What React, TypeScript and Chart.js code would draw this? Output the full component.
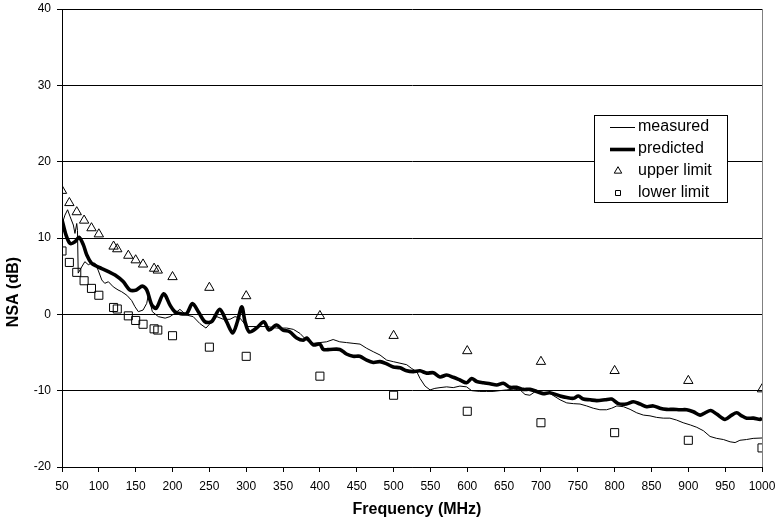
import { useEffect, useRef } from 'react';
import { Chart, registerables } from 'chart.js';

Chart.register(...registerables);

const FONT = '"Liberation Sans", Arial, Helvetica, sans-serif';

const measuredFreq = [
  50, 54, 57.6, 61, 65.4, 67.6, 70, 71, 72, 76.7, 81, 85.7, 90, 94.8, 99, 104, 108, 113, 119.6, 126,
  131, 138, 144.6, 149, 153.6, 160, 165, 167, 169.4, 172.6, 180.7, 190, 196.6, 203, 210, 219, 228, 237, 245.4, 251,
  260, 269, 278, 284.8, 291.6, 300.7, 314, 328, 341.4, 355, 364, 373, 382, 391, 400, 409, 418, 427, 436, 445,
  454.5, 463.5, 472.5, 481.6, 490.7, 499.7, 508.7, 517.8, 524.6, 531.4, 535.9, 542.7, 549.5, 556, 563, 572, 581, 590, 599, 606,
  617, 626, 635, 644, 653.5, 662.6, 671.6, 678.4, 685, 694, 703, 712, 726, 735, 744, 753, 762, 771, 780, 789,
  796, 803, 812, 821, 830, 839, 848, 857, 866, 875, 884, 893, 903, 911.5, 920.5, 929.5, 938.5, 947.6, 956.7, 963.5,
  970, 979, 988, 1000,
];
const measuredNsa = [
  11.8, 13.0, 13.7, 12.8, 11.7, 10.6, 11.9, 11.0, 5.4, 6.2, 6.9, 6.5, 6.7, 6.7, 5.8, 4.5, 4.06, 4.27, 3.6, 3.2,
  2.96, 2.5, 1.8, 1.0, 0.35, 0.56, 1.44, 2.5, 1.65, 0.35, -0.3, -0.5, -0.3, 0.13, 0.65, -0.1, -0.3, -1.2, -1.8, -1.2,
  -0.3, -0.65, -0.65, -0.3, -0.5, -1.6, -1.6, -1.6, -1.8, -1.8, -1.97, -2.5, -3.4, -3.8, -3.7, -3.6, -3.3, -3.6, -3.7, -3.8,
  -3.9, -4.45, -4.9, -5.33, -6.0, -6.2, -6.4, -6.6, -7.1, -7.5, -8.4, -9.4, -9.9, -9.7, -9.6, -9.5, -9.6, -9.4, -9.5, -10.0,
  -10.1, -10.1, -10.1, -10.0, -9.9, -9.8, -9.9, -10.5, -10.6, -10.0, -10.2, -10.35, -11.2, -11.6, -11.7, -11.75, -12.0, -12.3, -12.5, -12.5,
  -12.3, -12.0, -12.1, -12.45, -12.9, -13.2, -13.3, -13.5, -13.6, -13.6, -13.85, -14.2, -14.5, -14.8, -15.25, -16.0, -16.25, -16.4, -16.7, -16.8,
  -16.5, -16.4, -16.25, -16.2,
];

const predictedFreq = [
  50, 55.4, 60.9, 67.6, 73, 79, 83.5, 90, 97, 104, 113, 122, 133, 142, 151, 159, 165, 172, 178, 188,
  196.6, 203, 210, 219, 227, 235, 244, 253, 264, 273.5, 281.7, 288, 294, 298.4, 304, 314, 324, 331, 341, 350,
  359, 368.5, 377.5, 382, 391, 400, 404.6, 413.7, 427, 436, 445, 454, 463.5, 472.5, 481.6, 490.7, 499.7, 508.7, 517.8, 526.8,
  535.9, 545, 554, 563, 572, 581, 590, 599, 606, 612.8, 622, 631, 640, 649, 658, 667, 676, 685, 694, 703,
  712, 726, 735, 744, 750.7, 757.5, 766.6, 775.7, 787, 796, 805, 816, 825.4, 834.5, 843.5, 852.5, 861.5, 870.6, 879.7, 888.7,
  897.8, 906.8, 916, 922.7, 930.4, 938.5, 949.8, 958.9, 965.7, 972.5, 979.3, 988.4, 997.5, 1000,
];
const predictedNsa = [
  12.4, 10.4, 9.3, 9.5, 10.1, 9.1, 7.8, 6.7, 6.3, 6.0, 5.6, 5.15, 4.3, 3.2, 3.2, 3.7, 3.2, 1.2, 0.8, 2.7,
  1.2, 0.35, 0.1, 0.1, 1.4, 0.35, -0.97, -0.97, 0.65, -1.0, -2.45, -0.97, 1.0, -0.97, -2.3, -1.8, -0.97, -2.06, -1.4, -2.06,
  -2.28, -3.1, -3.4, -3.1, -4.0, -3.9, -4.6, -4.6, -4.6, -5.2, -5.5, -5.5, -6.0, -6.3, -6.2, -6.5, -6.9, -7.0, -7.4, -7.5,
  -7.4, -7.7, -7.65, -8.2, -7.95, -8.25, -8.6, -8.96, -8.4, -8.8, -8.96, -9.1, -9.26, -9.04, -9.56, -9.56, -9.83, -9.83, -10.1, -10.4,
  -10.27, -10.7, -10.9, -11.0, -10.7, -11.1, -11.2, -11.3, -11.2, -11.1, -11.7, -11.75, -11.45, -11.75, -12.1, -12.0, -12.3, -12.45, -12.45, -12.5,
  -12.5, -12.76, -13.2, -12.9, -12.6, -13.06, -13.76, -13.2, -12.9, -13.3, -13.6, -13.6, -13.76, -13.6,
];

const limitFreq = [50, 60, 70, 80, 90, 100, 120, 125, 140, 150, 160, 175, 180, 200, 250, 300, 400, 500, 600, 700, 800, 900, 1000];
const upperLimit = [16.2, 14.6, 13.4, 12.3, 11.3, 10.5, 8.9, 8.55, 7.7, 7.1, 6.55, 6.0, 5.76, 4.9, 3.5, 2.4, -0.2, -2.8, -4.8, -6.2, -7.4, -8.7, -9.8];
const lowerLimit = [8.3, 6.8, 5.5, 4.4, 3.4, 2.5, 0.9, 0.7, -0.2, -0.8, -1.3, -1.9, -2.06, -2.8, -4.3, -5.5, -8.1, -10.6, -12.7, -14.2, -15.5, -16.5, -17.5];

const xTitle = 'Frequency (MHz)';
const yTitle = 'NSA (dB)';

const pairs = (xs: number[], ys: number[]) => xs.map((x, i) => ({ x, y: ys[i] }));

const plotBorderPlugin = {
  id: 'plotBorder',
  beforeDatasetsDraw(chart: any) {
    const { ctx, chartArea } = chart;
    ctx.save();
    ctx.strokeStyle = '#808080';
    ctx.lineWidth = 1;
    ctx.beginPath();
    const x = Math.round(chartArea.right) + 0.5;
    ctx.moveTo(x, chartArea.top);
    ctx.lineTo(x, chartArea.bottom);
    ctx.stroke();
    ctx.restore();
  },
};

const axisTitlePlugin = {
  id: 'axisTitles',
  afterDraw(chart: any) {
    const { ctx, chartArea, height } = chart;
    ctx.save();
    ctx.fillStyle = '#000';
    ctx.font = `bold 16px ${FONT}`;
    ctx.textAlign = 'center';
    ctx.textBaseline = 'middle';
    ctx.fillText(xTitle, (chartArea.left + chartArea.right) / 2 + 5, height - 14);
    ctx.translate(14, chartArea.top + (chartArea.bottom - chartArea.top) * 0.618);
    ctx.rotate(-Math.PI / 2);
    ctx.fillText(yTitle, 0, 0);
    ctx.restore();
  },
};

const boxLegendPlugin = {
  id: 'boxLegend',
  afterDraw(chart: any) {
    const { ctx, chartArea } = chart;
    const left = chartArea.right - 168;
    const top = chartArea.top + 106;
    const w = 133;
    const h = 87;
    ctx.save();
    ctx.fillStyle = '#ffffff';
    ctx.fillRect(left, top, w, h);
    ctx.strokeStyle = '#000000';
    ctx.lineWidth = 1;
    ctx.strokeRect(Math.round(left) + 0.5, Math.round(top) + 0.5, w, h);
    ctx.font = `16px ${FONT}`;
    ctx.textBaseline = 'middle';
    ctx.textAlign = 'left';
    ctx.fillStyle = '#000';
    const rowY = [top + 12, top + 33.5, top + 56, top + 77.5];
    const sx0 = left + 16;
    const sx1 = left + 41;
    const tx = left + 44;
    chart.data.datasets.forEach((ds: any, i: number) => {
      const y = rowY[i];
      if (ds.showLine) {
        ctx.strokeStyle = ds.borderColor;
        ctx.lineWidth = ds.borderWidth;
        ctx.beginPath();
        ctx.moveTo(sx0, Math.round(y) + 0.5);
        ctx.lineTo(sx1, Math.round(y) + 0.5);
        ctx.stroke();
      } else {
        const cx = left + 24;
        ctx.strokeStyle = ds.borderColor;
        ctx.lineWidth = 1;
        ctx.beginPath();
        if (ds.pointStyle === 'triangle') {
          const r = 4.3;
          ctx.moveTo(cx, y - r);
          ctx.lineTo(cx + r * 0.866, y + r * 0.5);
          ctx.lineTo(cx - r * 0.866, y + r * 0.5);
          ctx.closePath();
        } else {
          ctx.rect(Math.round(cx - 3) + 0.5, Math.round(y - 3) + 0.5, 5, 5);
        }
        ctx.stroke();
      }
      ctx.fillStyle = '#000';
      ctx.fillText(ds.label, tx, y);
    });
    ctx.restore();
  },
};

export default function App() {
  const ref = useRef<HTMLCanvasElement>(null);
  useEffect(() => {
    document.body.style.margin = '0';
    const canvas = ref.current;
    if (!canvas) return;
    const chart = new Chart(canvas, {
      type: 'scatter',
      data: {
        datasets: [
          {
            label: 'measured',
            data: pairs(measuredFreq, measuredNsa),
            showLine: true,
            borderColor: '#000000',
            borderWidth: 1,
            pointRadius: 0,
            tension: 0,
            order: 2,
          },
          {
            label: 'predicted',
            data: pairs(predictedFreq, predictedNsa),
            showLine: true,
            borderColor: '#000000',
            borderWidth: 3.6,
            pointRadius: 0,
            tension: 0.3,
            order: 1,
          },
          {
            label: 'upper limit',
            data: pairs(limitFreq, upperLimit),
            showLine: false,
            pointStyle: 'triangle',
            pointRadius: 5.4,
            borderColor: '#000000',
            borderWidth: 1,
            backgroundColor: 'rgba(255,255,255,0)',
            order: 3,
          },
          {
            label: 'lower limit',
            data: pairs(limitFreq, lowerLimit),
            showLine: false,
            pointStyle: 'rect',
            pointRadius: 5.7,
            borderColor: '#000000',
            borderWidth: 1,
            backgroundColor: 'rgba(255,255,255,0)',
            order: 4,
          },
        ] as any,
      },
      options: {
        responsive: false,
        animation: false,
        devicePixelRatio: 1,
        events: [],
        layout: { padding: { top: 9, right: 14, left: 0, bottom: 0 } },
        plugins: {
          legend: { display: false },
          tooltip: { enabled: false },
        },
        scales: {
          x: {
            type: 'linear',
            min: 50,
            max: 1000,
            afterFit: (s: any) => {
              s.height = 57;
              s.paddingLeft = 0;
              s.paddingRight = 0;
            },
            ticks: {
              stepSize: 50,
              color: '#000',
              font: { family: FONT, size: 12 },
              padding: 7,
              maxRotation: 0,
              autoSkip: false,
              callback: (v: any) => String(v),
            },
            grid: { drawOnChartArea: false, color: '#000', tickLength: 5 },
            border: { color: '#000', width: 1 },
            title: { display: false },
          },
          y: {
            type: 'linear',
            min: -20,
            max: 40,
            afterFit: (s: any) => {
              s.width = 62;
              s.paddingTop = 0;
              s.paddingBottom = 0;
            },
            ticks: {
              stepSize: 10,
              color: '#000',
              font: { family: FONT, size: 12 },
              padding: 6,
              callback: (v: any) => String(v),
            },
            grid: { color: '#000', tickLength: 5 },
            border: { color: '#000', width: 1 },
            title: { display: false },
          },
        },
      } as any,
      plugins: [plotBorderPlugin, boxLegendPlugin, axisTitlePlugin],
    });
    return () => chart.destroy();
  }, []);
  return (
    <div style={{ position: 'absolute', left: 0, top: 0, width: 776, height: 524, background: '#fff' }}>
      <canvas ref={ref} width={776} height={524} style={{ width: 776, height: 524, display: 'block' }} />
    </div>
  );
}
